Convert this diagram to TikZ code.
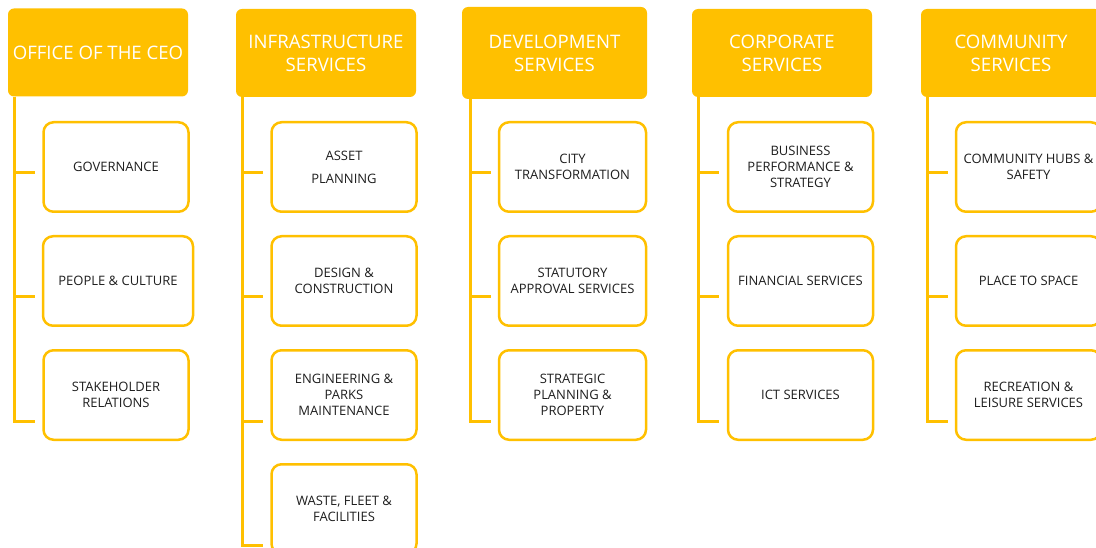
\documentclass[tikz,border=0pt]{standalone}
\usepackage{fontspec}
\setmainfont{Open Sans}
\definecolor{gold}{HTML}{FFC000}
\definecolor{ink}{HTML}{1E1E1E}
\begin{document}
\begin{tikzpicture}[x=1pt,y=-1pt,
  hdr/.style={fill=gold, rounded corners=6pt, text=white,
    font=\fontsize{18.6}{23}\selectfont, align=center, inner sep=0pt,
    minimum width=180pt, minimum height=88pt},
  unit/.style={draw=gold, line width=2.5pt, rounded corners=10pt, fill=white,
    text=ink, font=\fontsize{13}{16}\selectfont, align=center, inner sep=0pt,
    minimum width=145pt, minimum height=89.5pt},
  conn/.style={draw=gold, line width=3pt}]
\useasboundingbox (0,0) rectangle (1096,548);

% headers
\node[hdr] (ceo) at (98,52.5) {OFFICE OF THE CEO};
\node[hdr] (inf) at (326,53) {INFRASTRUCTURE\\SERVICES};
\node[hdr, minimum width=185pt, minimum height=92pt] (dev) at (554.5,53) {DEVELOPMENT\\SERVICES};
\node[hdr] (cor) at (782,53) {CORPORATE\\SERVICES};
\node[hdr] (com) at (1011,53) {COMMUNITY\\SERVICES};

% tick end coordinates
\foreach \n/\x in {ceo/35, inf/263, dev/491, cor/719, com/948}{
  \coordinate (\n-t1) at (\x,173);
  \coordinate (\n-t2) at (\x,297);
  \coordinate (\n-t3) at (\x,421);
}
\coordinate (inf-t4) at (263,545);

% connectors
\foreach \t in {1,2,3}{
  \draw[conn] ([xshift=7pt]ceo.south west) |- (ceo-t\t);
  \draw[conn] ([xshift=7pt]inf.south west) |- (inf-t\t);
  \draw[conn] ([xshift=9pt]dev.south west) |- (dev-t\t);
  \draw[conn] ([xshift=7pt]cor.south west) |- (cor-t\t);
  \draw[conn] ([xshift=7pt]com.south west) |- (com-t\t);
}
\draw[conn] ([xshift=7pt]inf.south west) |- (inf-t4);

% office of the CEO
\node[unit] (gov) at (116,167) {GOVERNANCE};
\node[unit, minimum width=150pt] (ppl) at (118,281) {PEOPLE \& CULTURE};
\node[unit] (stk) at (116,395) {STAKEHOLDER\\RELATIONS};

% infrastructure
\node[unit] (ast) at (344,167) {ASSET\\[7pt]PLANNING};
\node[unit] (des) at (344,281) {DESIGN \&\\CONSTRUCTION};
\node[unit] (eng) at (344,395) {ENGINEERING \&\\PARKS\\MAINTENANCE};
\node[unit] (wst) at (344,509) {WASTE, FLEET \&\\FACILITIES};

% development
\node[unit, minimum width=147pt] (cty) at (572.5,167) {CITY\\TRANSFORMATION};
\node[unit, minimum width=147pt] (sta) at (572.5,281) {STATUTORY\\APPROVAL SERVICES};
\node[unit, minimum width=147pt] (spp) at (572.5,395) {STRATEGIC\\PLANNING \&\\PROPERTY};

% corporate
\node[unit] (bps) at (800.5,167) {BUSINESS\\PERFORMANCE \&\\STRATEGY};
\node[unit] (fin) at (800.5,281) {FINANCIAL SERVICES};
\node[unit] (ict) at (800.5,395) {ICT SERVICES};

% community
\node[unit] (hub) at (1028.5,167) {COMMUNITY HUBS \&\\SAFETY};
\node[unit] (pts) at (1028.5,281) {PLACE TO SPACE};
\node[unit] (rec) at (1028.5,395) {RECREATION \&\\LEISURE SERVICES};
\end{tikzpicture}
\end{document}
